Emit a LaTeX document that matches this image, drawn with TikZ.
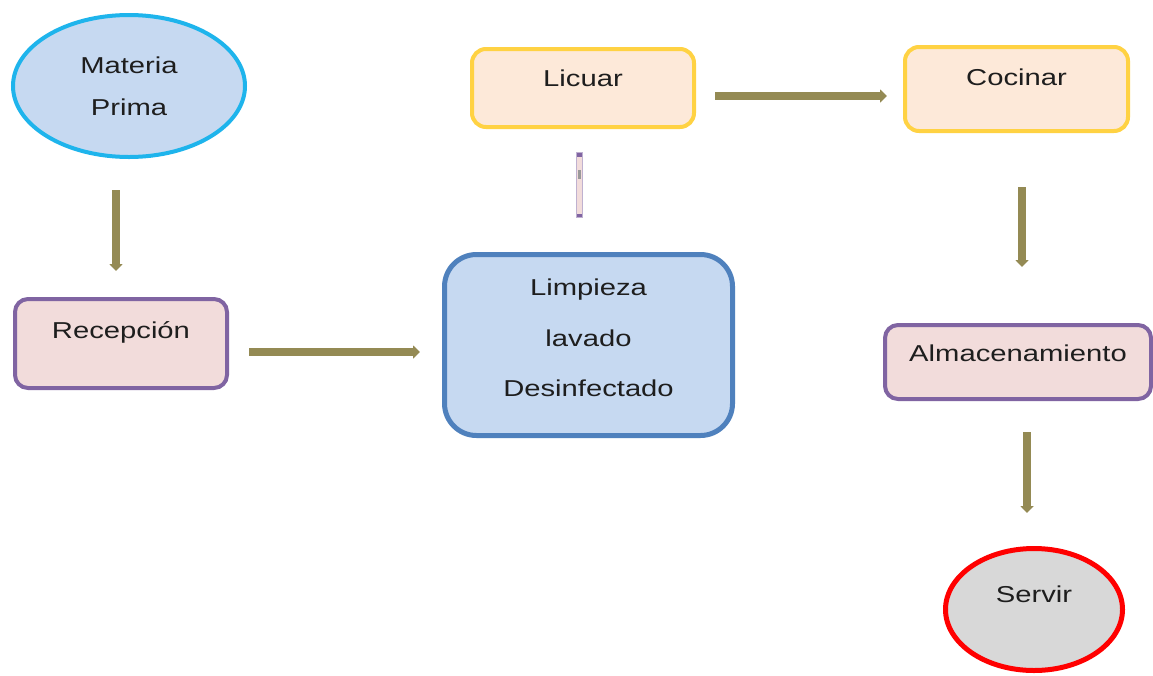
\documentclass[tikz,border=0pt]{standalone}
\usepackage{fontspec}
\setmainfont{Liberation Sans}[FakeStretch=1.27]
\usetikzlibrary{arrows.meta,shapes.geometric,calc}
\definecolor{cyanb}{RGB}{30,180,236}
\definecolor{lblue}{RGB}{198,217,241}
\definecolor{purp}{RGB}{128,100,162}
\definecolor{pinkf}{RGB}{242,220,219}
\definecolor{blueb}{RGB}{79,129,189}
\definecolor{gold}{RGB}{255,210,67}
\definecolor{peach}{RGB}{253,233,217}
\definecolor{grayf}{RGB}{216,216,216}
\definecolor{olive}{RGB}{148,138,84}
\definecolor{txt}{RGB}{30,30,30}
\tikzset{
  every node/.style={text=txt, font=\fontsize{23}{28}\selectfont, inner sep=0pt},
  purpbox/.style={draw=purp, fill=pinkf, line width=4pt, rounded corners=13pt, rectangle},
  goldbox/.style={draw=gold, fill=peach, line width=4pt, rounded corners=14pt, rectangle},
  arr/.style={draw=olive, line width=8pt, -{Triangle[length=7pt,width=13pt]}},
}
\begin{document}
\begin{tikzpicture}[x=1pt,y=-1pt]
\useasboundingbox (0,0) rectangle (1153,675);
\fill[white] (0,0) rectangle (1153,675);
\node[ellipse, draw=cyanb, fill=lblue, line width=4pt, minimum width=232pt, minimum height=142pt,
      align=center, font=\fontsize{23}{42}\selectfont] (mp) at (129,86) {Materia\\Prima};
\node[purpbox, minimum width=212pt, minimum height=89pt] (rec) at (121,343.5) {\raisebox{27pt}{Recepción}};
\node[draw=blueb, fill=lblue, line width=5pt, rounded corners=32pt, rectangle,
      minimum width=288pt, minimum height=181pt,
      font=\fontsize{23}{50.5}\selectfont] (limp) at (588.5,345)
      {\raisebox{9pt}[\height][\depth]{\begin{tabular}{@{}c@{}}Limpieza\\lavado\\Desinfectado\end{tabular}}};
\node[goldbox, minimum width=222pt, minimum height=78pt] (lic) at (583,88) {\raisebox{20pt}{Licuar}};
\node[goldbox, minimum width=223pt, minimum height=84pt] (coc) at (1016.5,89) {\raisebox{24pt}{Cocinar}};
\node[purpbox, minimum width=266pt, minimum height=74pt] (alm) at (1018,362) {\raisebox{17pt}{Almacenamiento}};
\node[ellipse, draw=red, fill=grayf, line width=5pt, minimum width=177pt, minimum height=122pt] (serv) at (1034,609.5) {\raisebox{31pt}{Servir}};
\node[rectangle, draw=purp!50, fill=pinkf, line width=0.8pt, minimum width=6pt, minimum height=65pt,
      path picture={\fill[purp] (path picture bounding box.north west) rectangle ([yshift=-4pt]path picture bounding box.north east);
                    \fill[purp] (path picture bounding box.south west) rectangle ([yshift=4pt]path picture bounding box.south east);
                    \fill[gray!80] ([xshift=-1.5pt,yshift=-17pt]path picture bounding box.north) rectangle ([xshift=1.5pt,yshift=-26pt]path picture bounding box.north);}] (bar) at (579.5,185) {};
% connectors
\draw[arr, shorten <=31pt, shorten >=26pt] ([xshift=-13pt]mp.south) -- ([xshift=-13pt]mp.south |- rec.north);
\draw[arr, shorten <=20pt, shorten >=22pt] ([yshift=-8.5pt]rec.east) -- ([yshift=-8.5pt]rec.east -| limp.west);
\draw[arr, shorten <=19pt, shorten >=16pt] ([yshift=-8pt]lic.east) -- ([yshift=-8pt]lic.east -| coc.west);
\draw[arr, shorten <=54pt, shorten >=56pt] ([xshift=5.5pt]coc.south) -- ([xshift=5.5pt]coc.south |- alm.north);
\draw[arr, shorten <=31pt, shorten >=33pt] ([xshift=9pt]alm.south) -- ([xshift=9pt]alm.south |- serv.north);
\end{tikzpicture}
\end{document}
